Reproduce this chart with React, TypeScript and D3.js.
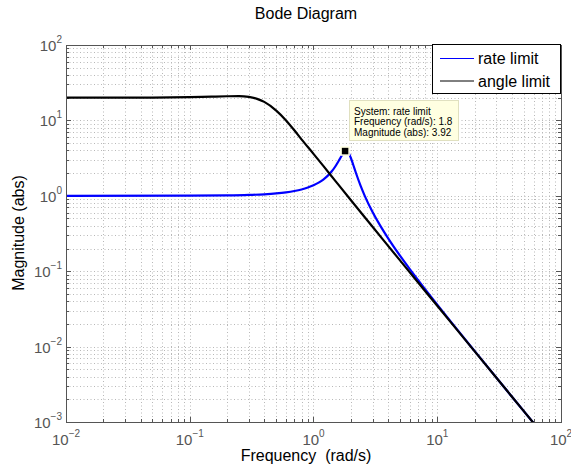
import React from "react";
import * as d3 from "d3";

const W = 571;
const H = 473;

// angle limit (black)
const angleFreq = [0.01, 0.05, 0.1, 0.15, 0.2, 0.25, 0.3, 0.35, 0.4, 0.5, 0.6, 0.7, 0.8, 1, 1.2, 1.5, 2, 3, 5, 10, 20, 40, 60];
const angleMag = [20.0, 20.1, 20.3, 20.65, 20.9, 21.0, 20.5, 19.3, 17.6, 13.5, 10.0, 7.4, 5.6, 3.6, 2.49, 1.58, 0.88, 0.389, 0.139, 0.0348, 0.0087, 0.00218, 0.00097];

// rate limit (blue)
const rateFreq = [0.01, 0.1, 0.2, 0.3, 0.4, 0.5, 0.6, 0.7, 0.8, 0.9, 1.0, 1.1, 1.2, 1.3, 1.4, 1.5, 1.6, 1.7, 1.8, 1.9, 2.0, 2.1, 2.2, 2.4, 2.6, 3.0, 3.5, 4, 5, 6, 8, 10, 20, 40, 60];
const rateMag = [1.0, 1.003, 1.011, 1.026, 1.047, 1.075, 1.111, 1.157, 1.214, 1.287, 1.378, 1.494, 1.643, 1.837, 2.097, 2.446, 2.912, 3.47, 3.92, 3.80, 3.196, 2.541, 2.022, 1.362, 0.991, 0.61, 0.3895, 0.2746, 0.1605, 0.1065, 0.0574, 0.036, 0.00877, 0.00218, 0.00097];

const xTicks = [0.01, 0.1, 1, 10, 100];
const xTickExp = ["\u22122", "\u22121", "0", "1", "2"];
const yTicks = [0.001, 0.01, 0.1, 1, 10, 100];
const yTickExp = ["\u22123", "\u22122", "\u22121", "0", "1", "2"];

const legendNames = ["rate limit", "angle limit"];
const legendColors = ["#0000ff", "#000000"];

const tipFreq = 1.8;
const tipMag = 3.92;
const tipLines = ["System: rate limit", "Frequency (rad/s): 1.8", "Magnitude (abs): 3.92"];

const FONT = "'Liberation Sans', Arial, Helvetica, sans-serif";

export default function App() {
  const left = 66, right = 561, top = 45, bottom = 422;
  const x = d3.scaleLog().domain([0.01, 100]).range([left, right]);
  const y = d3.scaleLog().domain([0.001, 100]).range([bottom, top]);

  const minorX: number[] = [];
  for (let e = -2; e < 2; e++) for (let k = 2; k <= 9; k++) minorX.push(k * Math.pow(10, e));
  const minorY: number[] = [];
  for (let e = -3; e < 2; e++) for (let k = 2; k <= 9; k++) minorY.push(k * Math.pow(10, e));

  const line = d3
    .line<[number, number]>()
    .x((d) => x(d[0]))
    .y((d) => y(d[1]))
    .curve(d3.curveMonotoneX);

  const blueData = rateFreq.map((f, i) => [f, rateMag[i]] as [number, number]);
  const blackData = angleFreq.map((f, i) => [f, angleMag[i]] as [number, number]);

  const gridColor = "#b8b8b8";
  const axisColor = "#555";
  const allX = [...xTicks, ...minorX];
  const allY = [...yTicks, ...minorY];

  const lx = 432, ly = 44, lw = 128, lh = 49;
  const tx = x(tipFreq), ty = y(tipMag);

  return (
    <svg width={W} height={H} style={{ position: "absolute", left: 0, top: 0, background: "#fff" }} fontFamily={FONT}>
      <defs>
        <clipPath id="plotclip">
          <rect x={left} y={top} width={right - left} height={bottom - top} />
        </clipPath>
      </defs>
      <rect x={0} y={0} width={W} height={H} fill="#fff" />
      {/* grid */}
      <g stroke={gridColor} strokeWidth={1} strokeDasharray="1,2.5">
        {allX.map((v, i) => (
          <line key={"gx" + i} x1={Math.round(x(v)) + 0.5} x2={Math.round(x(v)) + 0.5} y1={top} y2={bottom} />
        ))}
        {allY.map((v, i) => (
          <line key={"gy" + i} x1={left} x2={right} y1={Math.round(y(v)) + 0.5} y2={Math.round(y(v)) + 0.5} />
        ))}
      </g>
      {/* ticks */}
      <g stroke={axisColor} strokeWidth={1}>
        {xTicks.map((v, i) => {
          const px = Math.round(x(v)) + 0.5;
          return (
            <g key={"tx" + i}>
              <line x1={px} x2={px} y1={bottom} y2={bottom - 5} />
              <line x1={px} x2={px} y1={top} y2={top + 5} />
            </g>
          );
        })}
        {minorX.map((v, i) => {
          const px = Math.round(x(v)) + 0.5;
          return (
            <g key={"mx" + i}>
              <line x1={px} x2={px} y1={bottom} y2={bottom - 3} />
              <line x1={px} x2={px} y1={top} y2={top + 3} />
            </g>
          );
        })}
        {yTicks.map((v, i) => {
          const py = Math.round(y(v)) + 0.5;
          return (
            <g key={"ty" + i}>
              <line x1={left} x2={left + 5} y1={py} y2={py} />
              <line x1={right} x2={right - 5} y1={py} y2={py} />
            </g>
          );
        })}
        {minorY.map((v, i) => {
          const py = Math.round(y(v)) + 0.5;
          return (
            <g key={"my" + i}>
              <line x1={left} x2={left + 3} y1={py} y2={py} />
              <line x1={right} x2={right - 3} y1={py} y2={py} />
            </g>
          );
        })}
      </g>
      {/* curves */}
      <g clipPath="url(#plotclip)" fill="none" strokeWidth={2.2} strokeLinejoin="round">
        <path d={line(blueData) || ""} stroke="#0000ff" />
        <path d={line(blackData) || ""} stroke="#000000" />
      </g>
      {/* box */}
      <rect x={left + 0.5} y={top + 0.5} width={right - left} height={bottom - top} fill="none" stroke={axisColor} strokeWidth={1} />
      {/* tick labels */}
      <g fill={axisColor} fontSize={15}>
        {xTicks.map((v, i) => (
          <text key={"xl" + i} x={x(v)} y={445} textAnchor="middle">
            10
            <tspan dy={-8} fontSize={10}>
              {xTickExp[i]}
            </tspan>
          </text>
        ))}
        {yTicks.map((v, i) => (
          <text key={"yl" + i} x={62} y={y(v) + 6} textAnchor="end">
            10
            <tspan dy={-8} fontSize={10}>
              {yTickExp[i]}
            </tspan>
          </text>
        ))}
      </g>
      {/* titles */}
      <text x={306} y={19} textAnchor="middle" fontSize={16} fill="#000">
        Bode Diagram
      </text>
      <text x={306} y={461} textAnchor="middle" fontSize={16} fill="#000" xmlSpace="preserve">
        Frequency  (rad/s)
      </text>
      <text transform={`translate(24,233) rotate(-90)`} textAnchor="middle" fontSize={16} fill="#000">
        Magnitude (abs)
      </text>
      {/* legend */}
      <rect x={lx + 0.5} y={ly + 0.5} width={lw} height={lh} fill="#fff" stroke="#000" strokeWidth={1} />
      {legendNames.map((n, i) => (
        <g key={"lg" + i}>
          <line x1={lx + 8} x2={lx + 42} y1={ly + 14.5 + i * 22.5} y2={ly + 14.5 + i * 22.5} stroke={legendColors[i]} strokeWidth={1} />
          <text x={lx + 46} y={ly + 20 + i * 22.5} fontSize={16} fill="#000">
            {n}
          </text>
        </g>
      ))}
      {/* data tip */}
      <rect x={349.5} y={100.5} width={109} height={40} fill="#ffffe1" stroke="#e0e0c0" strokeWidth={1} />
      {tipLines.map((t, i) => (
        <text key={"tl" + i} x={354} y={114.5 + i * 10.5} fontSize={10} fill="#000">
          {t}
        </text>
      ))}
      <rect x={tx - 4} y={ty - 4} width={8} height={8} fill="#000" stroke="#ffffe1" strokeWidth={1.5} />
    </svg>
  );
}
